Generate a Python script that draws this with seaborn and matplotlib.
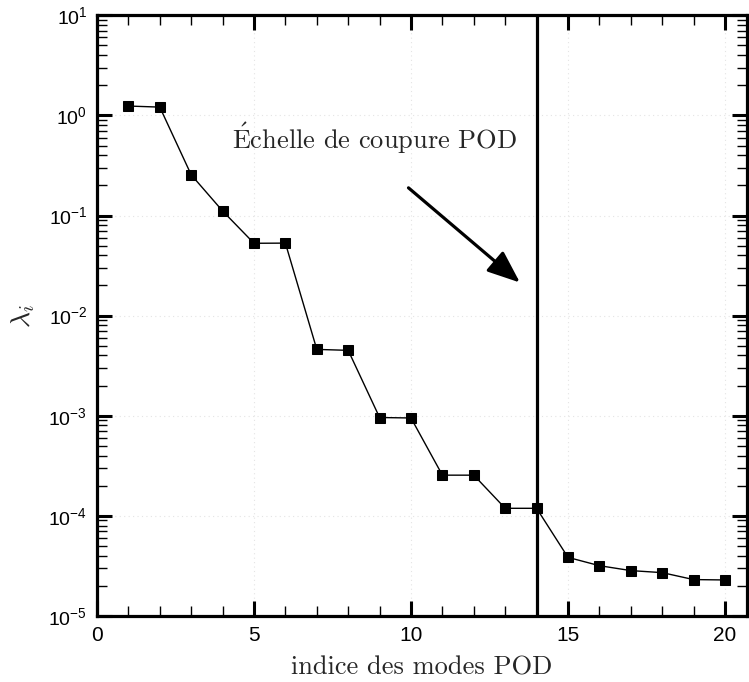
import numpy as np
import pandas as pd
import matplotlib
matplotlib.use("Agg")
import matplotlib.pyplot as plt
import matplotlib.ticker as mticker
import seaborn as sns

# POD eigenvalue spectrum
modes = list(range(1, 21))
eigenvalues = [1.24, 1.21, 0.255, 0.111, 0.0528, 0.053, 0.0046, 0.0045,
               0.00096, 0.00095, 0.000255, 0.000255, 0.000119, 0.000119,
               3.85e-5, 3.18e-5, 2.84e-5, 2.71e-5, 2.31e-5, 2.29e-5]
decades = list(range(-5, 2))
cutoff_mode = 14
annotation_text = r"$\mathrm{\acute{E}}$chelle de coupure POD"
x_label = "indice des modes POD"
y_label = r"$\lambda_i$"

sns.set_style("white")
plt.rcParams["font.family"] = ["Liberation Sans", "DejaVu Sans"]
plt.rcParams["mathtext.fontset"] = "custom"
plt.rcParams["mathtext.rm"] = "Liberation Sans"
plt.rcParams["mathtext.it"] = "Liberation Sans:italic"
plt.rcParams["mathtext.bf"] = "Liberation Sans:bold"

df = pd.DataFrame({"mode": modes, "lambda": eigenvalues})

fig = plt.figure(figsize=(7.49, 6.82), dpi=100)
ax = fig.add_axes([0.1295, 0.0968, 0.8678, 0.8808])

sns.lineplot(data=df, x="mode", y="lambda", ax=ax, color="black", lw=1.0,
             marker="s", markersize=7.5, markeredgecolor="black",
             markerfacecolor="black", zorder=3)
ax.set_yscale("log")
ax.set_xlim(0, 20.7)
ax.set_ylim(1e-5, 1e1)

ax.axvline(cutoff_mode, color="black", lw=2.3, zorder=4)

# faint dotted grid at major ticks
ax.grid(True, which="major", ls=(0, (1, 3)), color="#e4e4e4", lw=0.8)
ax.set_axisbelow(True)

ax.set_xticks([0, 5, 10, 15, 20])
ax.set_xticks(range(1, 21), minor=True)
ax.set_yticks([10.0 ** k for k in decades])
ax.set_yticklabels([r"$10^{%d}$" % k for k in decades])
ax.set_yticks([m * 10.0 ** k for k in decades[:-1] for m in range(2, 10)], minor=True)
ax.yaxis.set_minor_formatter(mticker.NullFormatter())
ax.set_xlim(0, 20.7)
ax.set_ylim(1e-5, 1e1)

ax.tick_params(which="both", direction="in", top=True, right=True,
               bottom=True, left=True, colors="black")
ax.tick_params(axis="y", labelsize=14)
ax.tick_params(axis="x", labelsize=15)
ax.tick_params(which="major", length=11, width=2.2, pad=7)
ax.tick_params(which="minor", length=7, width=1.0)

for s in ax.spines.values():
    s.set_linewidth(2.3)
    s.set_color("black")

ax.set_xlabel(x_label, fontsize=19, family="cmr10", va="baseline")
ax.xaxis.set_label_coords(0.5, -0.0977)
ax.set_ylabel(y_label, fontsize=20, math_fontfamily="cm", labelpad=8)

ax.text(8.83, 0.457, annotation_text, fontsize=19, family="cmr10",
        math_fontfamily="cm", ha="center", va="baseline")
ax.annotate("", xy=(13.47, 0.0214), xytext=(9.92, 0.189),
            arrowprops=dict(arrowstyle="-|>,head_length=0.8,head_width=0.32",
                            mutation_scale=25, lw=2.3, color="black",
                            shrinkA=0, shrinkB=0))

fig.savefig("out.png", dpi=100)
